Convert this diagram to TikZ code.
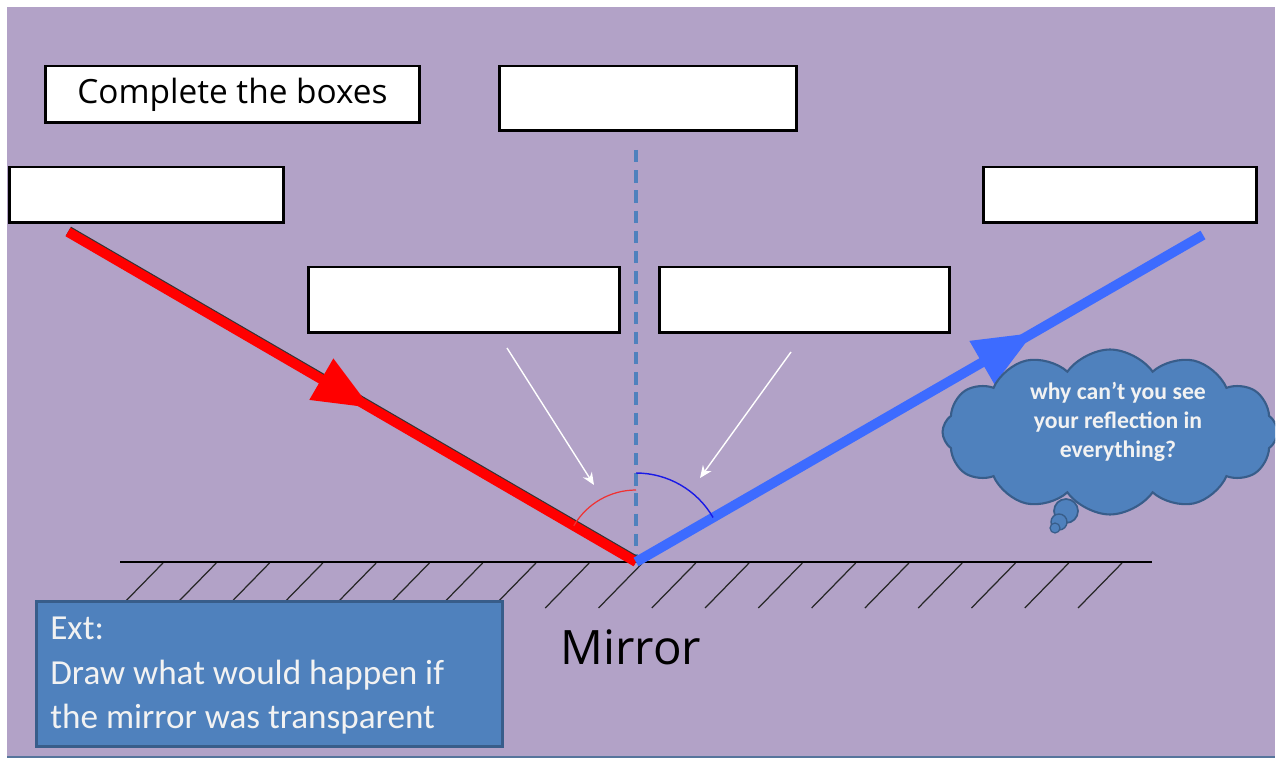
\documentclass[tikz,border=0pt]{standalone}
\usepackage{fontspec}
\setmainfont{Carlito}
\newfontfamily\handfont{Open Sans}
\usetikzlibrary{calc,shapes.symbols,arrows.meta}

\definecolor{lavender}{HTML}{B2A2C7}
\definecolor{steel}{HTML}{4F81BD}
\definecolor{steeldark}{HTML}{385D8A}
\definecolor{rayblue}{HTML}{3D6BFF}
\definecolor{arcblue}{HTML}{1A1AE6}
\definecolor{arcred}{HTML}{F03232}
\definecolor{paletext}{HTML}{F2F2F2}

\begin{document}
\begin{tikzpicture}[x=0.02cm,y=-0.02cm,
  answerbox/.style={draw=black, line width=1.7pt, fill=white, inner sep=0pt},
  pointer/.style={draw=white, line width=0.8pt, -{Stealth[length=7pt,width=6pt]}},
  hatch/.style={line width=0.7pt, black!85},
  bluepanel/.style={fill=steel, draw=steeldark, line width=1.5pt}]

% page and lavender slide
\useasboundingbox (0,0) rectangle (1276,760);
\fill[white] (0,0) rectangle (1276,760);
\fill[lavender] (7,7) rectangle (1275,757);
\draw[steeldark!85, line width=1.2pt] (7,757) -- (1275,757);

% answer boxes
\node[answerbox, minimum width=7.5cm, minimum height=1.14cm] (boxA) at (232.5,94.5)
  {\handfont\fontsize{19}{22}\selectfont Complete the boxes};
\node[answerbox, minimum width=5.96cm, minimum height=1.3cm] (boxB) at (648,98.5) {};
\node[answerbox, minimum width=5.5cm, minimum height=1.12cm] (boxC) at (146.5,195) {};
\node[answerbox, minimum width=6.24cm, minimum height=1.32cm] (boxD) at (464,300) {};
\node[answerbox, minimum width=5.82cm, minimum height=1.32cm] (boxE) at (804.5,300) {};
\node[answerbox, minimum width=5.48cm, minimum height=1.12cm] (boxF) at (1120,195) {};

% key points of the rays
\coordinate (hit) at (636,562);
\coordinate (src) at (68,232);
\coordinate (dst) at (1203,235);
\coordinate (normaltop) at (636,150);

% normal line
\draw[steel, line width=1.9pt, dash pattern=on 7pt off 4.5pt] (normaltop) -- (hit);

% mirror surface with hatching
\coordinate (mirL) at (120,562);
\coordinate (mirR) at (1152,562);
\foreach \i in {0,...,18}
  \draw[hatch] (163+53.28*\i,563) -- ++(-44,45);
\draw[line width=1.2pt, black] (mirL) -- (mirR);

% incident ray (red) with its arrowhead
\draw[black!80, line width=5.9pt] ($(src)+(0.4,-0.8)$) -- ($(hit)+(0.4,-0.8)$);
\draw[red, line width=5.6pt] (src) -- (hit);
\fill[red]
  ($(src)!0.532!(hit)$) --
  ($($(src)!0.446!(hit)$)!0.48cm!90:(hit)$) --
  ($($(src)!0.446!(hit)$)!0.48cm!-90:(hit)$) -- cycle;

% reflected ray (blue) with its arrowhead
\draw[rayblue, line width=5.6pt] (hit) -- (dst);
\fill[rayblue]
  ($(hit)!0.70!(dst)$) --
  ($($(hit)!0.61!(dst)$)!0.5cm!90:(dst)$) --
  ($($(hit)!0.61!(dst)$)!0.5cm!-90:(dst)$) -- cycle;

% angle arcs
\begin{scope}[shift={(hit)}, x=1cm, y=1cm]
  \draw[arcred, line width=0.7pt] (90:1.44) arc[start angle=90, end angle=149.8, radius=1.44];
  \draw[arcblue, line width=0.8pt] (90:1.78) arc[start angle=90, end angle=30, radius=1.78];
\end{scope}

% pointers to the angles
\coordinate (pIfrom) at (507,348);
\coordinate (pIto) at (594,485);
\coordinate (pRfrom) at (791,352);
\coordinate (pRto) at (700,478);
\draw[pointer] (pIfrom) -- (pIto);
\draw[pointer] (pRfrom) -- (pRto);

% thought cloud
\begin{scope}
  \clip (7,7) rectangle (1275,757);
  \node[cloud, cloud puffs=12, cloud puff arc=110, aspect=2.1,
        fill=steel, draw=steeldark, line width=1.2pt,
        minimum width=6.7cm, minimum height=3.3cm] (cloud) at (1110,432) {};
\end{scope}
\node[align=center, text=paletext, font=\bfseries\fontsize{13.5}{16.6}\selectfont]
  (cloudtext) at (1118,422) {why can't you see\\your reflection in\\everything?};
\fill[steel, draw=steeldark, line width=1pt] (1066,511) circle[radius=0.24cm];
\fill[steel, draw=steeldark, line width=0.8pt] (1059,522) circle[radius=0.16cm];
\fill[steel, draw=steeldark, line width=0.7pt] (1055,528) circle[radius=0.1cm];

% extension task
\node[bluepanel, anchor=north west, minimum width=9.32cm, minimum height=2.9cm] (ext) at (35,600) {};
\node[anchor=north west, align=left, text=paletext, inner sep=0pt,
      font=\fontsize{20}{25.2}\selectfont] (exttext) at (50,617)
  {Ext:\\Draw what would happen if\\the mirror was transparent};

% mirror label
\node[font=\handfont\fontsize{27}{30}\selectfont] (mirrorlabel) at (631,647) {Mirror};
\end{tikzpicture}
\end{document}
